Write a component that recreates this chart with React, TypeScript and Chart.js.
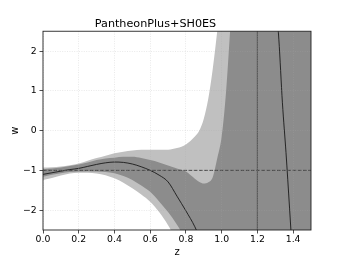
import React, { useEffect, useRef } from 'react';
import { Chart, registerables } from 'chart.js';

Chart.register(...registerables);

// redshift grid shared by the confidence bands
const zGrid = [0, 0.05, 0.1, 0.15, 0.2, 0.25, 0.3, 0.35, 0.4, 0.45, 0.5, 0.55, 0.6, 0.65, 0.7, 0.75, 0.8, 0.85, 0.875, 0.9, 0.925, 0.95, 0.975, 1.0, 1.025, 1.05, 1.1, 1.2, 1.3, 1.4, 1.5];

// 2-sigma band (light)
const lightUpperW = [-0.93, -0.92, -0.9, -0.87, -0.83, -0.76, -0.69, -0.63, -0.57, -0.53, -0.5, -0.48, -0.48, -0.48, -0.48, -0.44, -0.35, -0.15, 0.0, 0.3, 0.8, 1.55, 2.5, 3.6, 4.8, 6, 8, 10, 12, 14, 16];
const lightLowerW = [-1.24, -1.19, -1.13, -1.08, -1.06, -1.06, -1.08, -1.12, -1.2, -1.31, -1.45, -1.61, -1.79, -2.05, -2.38, -2.8, -3.3, -3.9, -4.2, -4.5, -4.8, -5.1, -5.4, -5.7, -6, -6.3, -7, -8, -9, -10, -11];

// 1-sigma band (dark)
const darkUpperW = [-0.97, -0.955, -0.93, -0.89, -0.85, -0.8, -0.74, -0.7, -0.68, -0.66, -0.66, -0.69, -0.74, -0.8, -0.88, -0.95, -1.03, -1.21, -1.29, -1.33, -1.3, -1.17, -0.7, -0.15, 1.0, 2.7, 6, 10, 12, 14, 16];
const darkLowerW = [-1.16, -1.11, -1.07, -1.04, -1.03, -1.02, -1.03, -1.04, -1.07, -1.14, -1.24, -1.38, -1.54, -1.78, -2.05, -2.37, -2.75, -3.2, -3.45, -3.7, -3.95, -4.2, -4.45, -4.7, -4.95, -5.2, -5.7, -6.7, -7.7, -8.7, -9.7];

// mean reconstruction (two visible branches)
const meanZ = [0, 0.05, 0.1, 0.15, 0.2, 0.25, 0.3, 0.35, 0.4, 0.45, 0.5, 0.55, 0.6, 0.65, 0.7, 0.75, 0.8, 0.85, 0.9, 0.95];
const meanW = [-1.1, -1.06, -1.02, -0.98, -0.95, -0.9, -0.85, -0.81, -0.79, -0.8, -0.84, -0.91, -1.0, -1.12, -1.29, -1.65, -2.02, -2.42, -2.95, -3.55];
const mean2Z = [1.3, 1.32, 1.34, 1.36, 1.38, 1.4];
const mean2W = [3.4, 2.3, 0.7, -0.55, -1.95, -3.4];

// reference lines
const vlineZ = [1.2, 1.2];
const vlineW = [-3, 3];
const lcdmZ = [0, 1.5];
const lcdmW = [-1, -1];

const xTicks = [0, 0.2, 0.4, 0.6, 0.8, 1.0, 1.2, 1.4];
const yTicks = [-2, -1, 0, 1, 2];

const FONT = 'DejaVu Sans';
const TEXT = '#000';
const GRID = 'rgba(168,168,168,0.32)';

const pts = (zs: number[], ws: number[]) => zs.map((z, i) => ({ x: z, y: ws[i] }));

export default function App() {
  const ref = useRef<HTMLCanvasElement>(null);

  useEffect(() => {
    document.body.style.margin = '0';
    const boxPlugin = {
      id: 'box',
      afterDraw(chart: any) {
        const { ctx, chartArea: a } = chart;
        ctx.save();
        ctx.strokeStyle = '#222';
        ctx.lineWidth = 0.9;
        ctx.strokeRect(a.left, a.top, a.right - a.left, a.bottom - a.top);
        ctx.restore();
      },
    };
    const band = { pointRadius: 0, borderWidth: 0, cubicInterpolationMode: 'monotone' as const, clip: 0 };
    const chart = new Chart(ref.current!, {
      type: 'line',
      data: {
        datasets: [
          { ...band, data: pts(zGrid, lightUpperW), fill: false, order: 6, borderColor: 'rgba(0,0,0,0)' },
          { ...band, data: pts(zGrid, lightLowerW), fill: 0, order: 5, borderColor: 'rgba(0,0,0,0)', backgroundColor: '#c0c0c0' },
          { ...band, data: pts(zGrid, darkUpperW), fill: false, order: 4, borderColor: 'rgba(0,0,0,0)' },
          { ...band, data: pts(zGrid, darkLowerW), fill: 2, order: 3, borderColor: 'rgba(0,0,0,0)', backgroundColor: '#8c8c8c' },
          { data: pts(vlineZ, vlineW), pointRadius: 0, borderWidth: 1.2, borderColor: '#5a5a5a', fill: false, order: 2.5, clip: 0 },
          { data: pts(meanZ, meanW), pointRadius: 0, borderWidth: 0.9, borderColor: '#1a1a1a', fill: false, order: 2, cubicInterpolationMode: 'monotone', clip: 0 },
          { data: pts(mean2Z, mean2W), pointRadius: 0, borderWidth: 0.9, borderColor: '#1a1a1a', fill: false, order: 2, cubicInterpolationMode: 'monotone', clip: 0 },
          { data: pts(lcdmZ, lcdmW), pointRadius: 0, borderWidth: 1, borderColor: '#444', borderDash: [3.6, 1.6], fill: false, order: 1, clip: 0 },
        ] as any,
      },
      options: {
        animation: false,
        responsive: false,
        devicePixelRatio: 1,
        layout: { padding: { left: 0, right: 34, top: 0, bottom: 0 } },
        plugins: {
          legend: { display: false },
          tooltip: { enabled: false },
          title: {
            display: true,
            text: 'PantheonPlus+SH0ES',
            color: TEXT,
            font: { family: FONT, size: 11.2, weight: 'normal' },
            padding: { top: 17.8, bottom: 0 },
          },
        },
        scales: {
          x: {
            type: 'linear',
            min: 0,
            max: 1.5,
            afterBuildTicks: (s: any) => { s.ticks = xTicks.map((v) => ({ value: v })); },
            afterFit: (s: any) => { s.height = 29; },
            ticks: {
              color: TEXT,
              font: { family: FONT, size: 9.3 },
              padding: 1,
              maxRotation: 0,
              autoSkip: false,
              callback: (v: any) => Number(v).toFixed(1),
            },
            grid: { color: GRID, lineWidth: 0.8, tickColor: '#222', tickLength: 3.5, tickWidth: 0.8, z: 1 },
            border: { display: false, dash: [1, 1.4] },
            title: { display: true, text: 'z', color: TEXT, font: { family: FONT, size: 10 }, padding: { top: 0, bottom: 0.3 } },
          },
          y: {
            type: 'linear',
            min: -2.5,
            max: 2.5,
            afterBuildTicks: (s: any) => { s.ticks = yTicks.map((v) => ({ value: v })); },
            afterFit: (s: any) => { s.width = 43; },
            ticks: {
              color: TEXT,
              font: { family: FONT, size: 9.3 },
              padding: 2.8,
              autoSkip: false,
              callback: (v: any) => (Number(v) < 0 ? '\u2212' + Math.abs(Number(v)) : String(v)),
            },
            grid: { color: GRID, lineWidth: 0.8, tickColor: '#222', tickLength: 3.5, tickWidth: 0.8, z: 1 },
            border: { display: false, dash: [1, 1.4] },
            title: { display: true, text: 'w', color: TEXT, font: { family: FONT, size: 10 }, padding: { top: 9.2, bottom: 0 } },
          },
        },
      } as any,
      plugins: [boxPlugin],
    });
    return () => chart.destroy();
  }, []);

  return <canvas ref={ref} width={345} height={259} style={{ display: 'block' }} />;
}
